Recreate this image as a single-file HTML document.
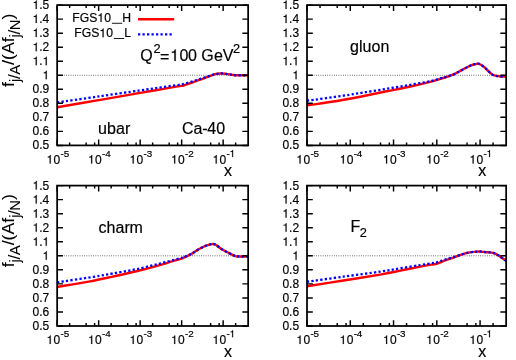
<!DOCTYPE html>
<html><head><meta charset="utf-8"><title>FGS10 nuclear ratios</title>
<style>
html,body{margin:0;padding:0;background:#fff;-webkit-font-smoothing:antialiased;}
body{width:516px;height:360px;overflow:hidden;position:relative;font-family:"Liberation Sans",sans-serif;}
</style></head><body>
<svg width="516" height="360" viewBox="0 0 516 360" style="display:block;position:absolute;left:0;top:0;will-change:transform" font-family="Liberation Sans, sans-serif" fill="#000" stroke="#000" stroke-width="0.18">
<rect width="516" height="360" fill="#fff" stroke="none"/>
<line x1="57.15" y1="75.25" x2="248.15" y2="75.25" stroke="#000" stroke-width="0.7" stroke-dasharray="0.8 1.45"/>
<clipPath id="cp1"><rect x="57.15" y="5.10" width="191.00" height="140.30"/></clipPath>
<g clip-path="url(#cp1)" fill="none">
<path d="M57.15 107.24 C64.07 106.05 84.82 102.47 98.65 100.08 C112.48 97.70 129.78 94.72 140.15 92.93 C150.53 91.14 154.40 90.47 160.90 89.35 C167.40 88.23 175.56 86.79 179.16 86.19 C182.76 85.60 181.37 86.02 182.48 85.77 C183.59 85.53 183.98 85.34 185.80 84.72 C187.62 84.11 190.84 82.99 193.39 82.08 C195.95 81.17 198.57 80.20 201.16 79.26 C203.74 78.32 206.56 77.29 208.92 76.44 C211.27 75.60 213.33 74.70 215.27 74.20 C217.20 73.70 218.75 73.48 220.54 73.43 C222.32 73.37 224.04 73.64 225.97 73.88 C227.91 74.11 230.34 74.60 232.16 74.83 C233.97 75.06 234.06 75.18 236.84 75.25 C239.63 75.32 246.87 75.25 248.88 75.25" stroke="#ff0000" stroke-width="2.40"/>
<path d="M57.15 102.47 C64.07 101.46 84.82 98.45 98.65 96.44 C112.48 94.42 129.78 91.91 140.15 90.40 C150.53 88.89 154.40 88.32 160.90 87.39 C167.40 86.45 175.56 85.30 179.16 84.79 C182.76 84.28 181.37 84.53 182.48 84.30 C183.59 84.07 183.98 83.91 185.80 83.39 C187.62 82.86 190.84 81.94 193.39 81.14 C195.95 80.35 198.57 79.45 201.16 78.62 C203.74 77.78 206.56 76.88 208.92 76.15 C211.27 75.41 213.33 74.65 215.27 74.20 C217.20 73.74 218.75 73.48 220.54 73.43 C222.32 73.37 224.04 73.64 225.97 73.88 C227.91 74.11 230.34 74.60 232.16 74.83 C233.97 75.06 234.06 75.18 236.84 75.25 C239.63 75.32 246.87 75.25 248.88 75.25" stroke="#0000ff" stroke-width="2.30" stroke-dasharray="2.25 2.25"/>
</g>
<path d="M57.15 145.40h5.80 M248.15 145.40h-5.80 M57.15 131.37h5.80 M248.15 131.37h-5.80 M57.15 117.34h5.80 M248.15 117.34h-5.80 M57.15 103.31h5.80 M248.15 103.31h-5.80 M57.15 89.28h5.80 M248.15 89.28h-5.80 M57.15 75.25h5.80 M248.15 75.25h-5.80 M57.15 61.22h5.80 M248.15 61.22h-5.80 M57.15 47.19h5.80 M248.15 47.19h-5.80 M57.15 33.16h5.80 M248.15 33.16h-5.80 M57.15 19.13h5.80 M248.15 19.13h-5.80 M57.15 5.10h5.80 M248.15 5.10h-5.80 M57.15 145.40v-5.80 M57.15 5.10v5.80 M69.64 145.40v-3.00 M69.64 5.10v3.00 M86.16 145.40v-3.00 M86.16 5.10v3.00 M94.63 145.40v-3.00 M94.63 5.10v3.00 M98.65 145.40v-5.80 M98.65 5.10v5.80 M111.14 145.40v-3.00 M111.14 5.10v3.00 M127.66 145.40v-3.00 M127.66 5.10v3.00 M136.13 145.40v-3.00 M136.13 5.10v3.00 M140.15 145.40v-5.80 M140.15 5.10v5.80 M152.64 145.40v-3.00 M152.64 5.10v3.00 M169.16 145.40v-3.00 M169.16 5.10v3.00 M177.63 145.40v-3.00 M177.63 5.10v3.00 M181.65 145.40v-5.80 M181.65 5.10v5.80 M194.14 145.40v-3.00 M194.14 5.10v3.00 M210.66 145.40v-3.00 M210.66 5.10v3.00 M219.13 145.40v-3.00 M219.13 5.10v3.00 M223.15 145.40v-5.80 M223.15 5.10v5.80 M235.64 145.40v-3.00 M235.64 5.10v3.00" stroke="#000" stroke-width="1.45" fill="none"/>
<rect x="57.15" y="5.10" width="191.00" height="140.30" fill="none" stroke="#000" stroke-width="1.75"/>
<text x="32.57 39.24 42.58" y="149.35" font-size="12.00">0.5</text>
<text x="32.57 39.24 42.58" y="135.32" font-size="12.00">0.6</text>
<text x="32.57 39.24 42.58" y="121.29" font-size="12.00">0.7</text>
<text x="32.57 39.24 42.58" y="107.26" font-size="12.00">0.8</text>
<text x="32.57 39.24 42.58" y="93.23" font-size="12.00">0.9</text>
<path transform="translate(42.58,79.20) scale(12.000)" d="M.259 -.505L.259 0L.347 0L.347 -.709L.289 -.709C.258 -.6 .238 -.585 .102 -.568L.102 -.505Z" stroke-width="0.0150"/>
<path transform="translate(32.57,65.17) scale(12.000)" d="M.259 -.505L.259 0L.347 0L.347 -.709L.289 -.709C.258 -.6 .238 -.585 .102 -.568L.102 -.505Z" stroke-width="0.0150"/><text x="39.24" y="65.17" font-size="12.00">.</text><path transform="translate(42.58,65.17) scale(12.000)" d="M.259 -.505L.259 0L.347 0L.347 -.709L.289 -.709C.258 -.6 .238 -.585 .102 -.568L.102 -.505Z" stroke-width="0.0150"/>
<path transform="translate(32.57,51.14) scale(12.000)" d="M.259 -.505L.259 0L.347 0L.347 -.709L.289 -.709C.258 -.6 .238 -.585 .102 -.568L.102 -.505Z" stroke-width="0.0150"/><text x="39.24 42.58" y="51.14" font-size="12.00">.2</text>
<path transform="translate(32.57,37.11) scale(12.000)" d="M.259 -.505L.259 0L.347 0L.347 -.709L.289 -.709C.258 -.6 .238 -.585 .102 -.568L.102 -.505Z" stroke-width="0.0150"/><text x="39.24 42.58" y="37.11" font-size="12.00">.3</text>
<path transform="translate(32.57,23.08) scale(12.000)" d="M.259 -.505L.259 0L.347 0L.347 -.709L.289 -.709C.258 -.6 .238 -.585 .102 -.568L.102 -.505Z" stroke-width="0.0150"/><text x="39.24 42.58" y="23.08" font-size="12.00">.4</text>
<path transform="translate(32.57,9.05) scale(12.000)" d="M.259 -.505L.259 0L.347 0L.347 -.709L.289 -.709C.258 -.6 .238 -.585 .102 -.568L.102 -.505Z" stroke-width="0.0150"/><text x="39.24 42.58" y="9.05" font-size="12.00">.5</text>
<path transform="translate(46.55,163.60) scale(12.000)" d="M.259 -.505L.259 0L.347 0L.347 -.709L.289 -.709C.258 -.6 .238 -.585 .102 -.568L.102 -.505Z" stroke-width="0.0150"/><text x="53.55" y="163.60" font-size="12.00">0</text>
<text x="60.55 63.65" y="156.90" font-size="9.90">-5</text>
<path transform="translate(88.05,163.60) scale(12.000)" d="M.259 -.505L.259 0L.347 0L.347 -.709L.289 -.709C.258 -.6 .238 -.585 .102 -.568L.102 -.505Z" stroke-width="0.0150"/><text x="95.05" y="163.60" font-size="12.00">0</text>
<text x="102.05 105.15" y="156.90" font-size="9.90">-4</text>
<path transform="translate(129.55,163.60) scale(12.000)" d="M.259 -.505L.259 0L.347 0L.347 -.709L.289 -.709C.258 -.6 .238 -.585 .102 -.568L.102 -.505Z" stroke-width="0.0150"/><text x="136.55" y="163.60" font-size="12.00">0</text>
<text x="143.55 146.65" y="156.90" font-size="9.90">-3</text>
<path transform="translate(171.05,163.60) scale(12.000)" d="M.259 -.505L.259 0L.347 0L.347 -.709L.289 -.709C.258 -.6 .238 -.585 .102 -.568L.102 -.505Z" stroke-width="0.0150"/><text x="178.05" y="163.60" font-size="12.00">0</text>
<text x="185.05 188.15" y="156.90" font-size="9.90">-2</text>
<path transform="translate(212.55,163.60) scale(12.000)" d="M.259 -.505L.259 0L.347 0L.347 -.709L.289 -.709C.258 -.6 .238 -.585 .102 -.568L.102 -.505Z" stroke-width="0.0150"/><text x="219.55" y="163.60" font-size="12.00">0</text>
<text x="226.55" y="156.90" font-size="9.90">-</text><path transform="translate(229.65,156.90) scale(9.900)" d="M.259 -.505L.259 0L.347 0L.347 -.709L.289 -.709C.258 -.6 .238 -.585 .102 -.568L.102 -.505Z" stroke-width="0.0182"/>
<text x="227.90" y="176.40" font-size="16.00" text-anchor="middle">x</text>
<line x1="307.00" y1="75.25" x2="506.15" y2="75.25" stroke="#000" stroke-width="0.7" stroke-dasharray="0.8 1.45"/>
<clipPath id="cp2"><rect x="307.00" y="5.10" width="199.15" height="140.30"/></clipPath>
<g clip-path="url(#cp2)" fill="none">
<path d="M307.00 105.41 C312.50 104.60 330.73 102.04 340.02 100.50 C349.30 98.97 355.12 97.69 362.69 96.20 C370.25 94.70 377.84 93.05 385.41 91.52 C392.97 90.00 400.64 88.65 408.08 87.04 C415.51 85.42 424.65 83.20 430.02 81.84 C435.38 80.49 437.37 79.76 440.27 78.90 C443.18 78.03 445.04 77.49 447.45 76.65 C449.87 75.81 452.32 74.97 454.77 73.85 C457.22 72.72 459.70 71.23 462.17 69.92 C464.63 68.61 467.48 66.94 469.57 65.99 C471.65 65.04 473.08 64.59 474.67 64.24 C476.26 63.89 477.48 63.41 479.08 63.89 C480.69 64.37 482.68 65.85 484.28 67.11 C485.88 68.38 487.22 70.15 488.69 71.46 C490.16 72.77 491.39 74.17 493.10 74.97 C494.82 75.76 496.69 75.95 498.99 76.23 C501.29 76.51 505.59 76.58 506.91 76.65" stroke="#ff0000" stroke-width="2.40"/>
<path d="M307.00 100.78 C313.08 99.93 334.20 97.02 343.48 95.66 C352.76 94.31 355.70 93.76 362.69 92.65 C369.68 91.54 377.84 90.24 385.41 89.00 C392.97 87.76 400.64 86.50 408.08 85.21 C415.51 83.93 424.65 82.41 430.02 81.28 C435.38 80.16 437.37 79.27 440.27 78.48 C443.18 77.68 445.04 77.28 447.45 76.51 C449.87 75.74 452.32 74.95 454.77 73.85 C457.22 72.75 459.70 71.23 462.17 69.92 C464.63 68.61 467.48 66.94 469.57 65.99 C471.65 65.04 473.08 64.59 474.67 64.24 C476.26 63.89 477.48 63.41 479.08 63.89 C480.69 64.37 482.68 65.85 484.28 67.11 C485.88 68.38 487.22 70.15 488.69 71.46 C490.16 72.77 491.39 74.17 493.10 74.97 C494.82 75.76 496.69 75.95 498.99 76.23 C501.29 76.51 505.59 76.58 506.91 76.65" stroke="#0000ff" stroke-width="2.30" stroke-dasharray="2.25 2.25"/>
</g>
<path d="M307.00 145.40h5.80 M506.15 145.40h-5.80 M307.00 131.37h5.80 M506.15 131.37h-5.80 M307.00 117.34h5.80 M506.15 117.34h-5.80 M307.00 103.31h5.80 M506.15 103.31h-5.80 M307.00 89.28h5.80 M506.15 89.28h-5.80 M307.00 75.25h5.80 M506.15 75.25h-5.80 M307.00 61.22h5.80 M506.15 61.22h-5.80 M307.00 47.19h5.80 M506.15 47.19h-5.80 M307.00 33.16h5.80 M506.15 33.16h-5.80 M307.00 19.13h5.80 M506.15 19.13h-5.80 M307.00 5.10h5.80 M506.15 5.10h-5.80 M307.00 145.40v-5.80 M307.00 5.10v5.80 M320.03 145.40v-3.00 M320.03 5.10v3.00 M337.24 145.40v-3.00 M337.24 5.10v3.00 M346.08 145.40v-3.00 M346.08 5.10v3.00 M350.27 145.40v-5.80 M350.27 5.10v5.80 M363.30 145.40v-3.00 M363.30 5.10v3.00 M380.51 145.40v-3.00 M380.51 5.10v3.00 M389.35 145.40v-3.00 M389.35 5.10v3.00 M393.54 145.40v-5.80 M393.54 5.10v5.80 M406.57 145.40v-3.00 M406.57 5.10v3.00 M423.78 145.40v-3.00 M423.78 5.10v3.00 M432.62 145.40v-3.00 M432.62 5.10v3.00 M436.81 145.40v-5.80 M436.81 5.10v5.80 M449.84 145.40v-3.00 M449.84 5.10v3.00 M467.05 145.40v-3.00 M467.05 5.10v3.00 M475.89 145.40v-3.00 M475.89 5.10v3.00 M480.08 145.40v-5.80 M480.08 5.10v5.80 M493.11 145.40v-3.00 M493.11 5.10v3.00" stroke="#000" stroke-width="1.45" fill="none"/>
<rect x="307.00" y="5.10" width="199.15" height="140.30" fill="none" stroke="#000" stroke-width="1.75"/>
<text x="282.42 289.09 292.43" y="149.35" font-size="12.00">0.5</text>
<text x="282.42 289.09 292.43" y="135.32" font-size="12.00">0.6</text>
<text x="282.42 289.09 292.43" y="121.29" font-size="12.00">0.7</text>
<text x="282.42 289.09 292.43" y="107.26" font-size="12.00">0.8</text>
<text x="282.42 289.09 292.43" y="93.23" font-size="12.00">0.9</text>
<path transform="translate(292.43,79.20) scale(12.000)" d="M.259 -.505L.259 0L.347 0L.347 -.709L.289 -.709C.258 -.6 .238 -.585 .102 -.568L.102 -.505Z" stroke-width="0.0150"/>
<path transform="translate(282.42,65.17) scale(12.000)" d="M.259 -.505L.259 0L.347 0L.347 -.709L.289 -.709C.258 -.6 .238 -.585 .102 -.568L.102 -.505Z" stroke-width="0.0150"/><text x="289.09" y="65.17" font-size="12.00">.</text><path transform="translate(292.43,65.17) scale(12.000)" d="M.259 -.505L.259 0L.347 0L.347 -.709L.289 -.709C.258 -.6 .238 -.585 .102 -.568L.102 -.505Z" stroke-width="0.0150"/>
<path transform="translate(282.42,51.14) scale(12.000)" d="M.259 -.505L.259 0L.347 0L.347 -.709L.289 -.709C.258 -.6 .238 -.585 .102 -.568L.102 -.505Z" stroke-width="0.0150"/><text x="289.09 292.43" y="51.14" font-size="12.00">.2</text>
<path transform="translate(282.42,37.11) scale(12.000)" d="M.259 -.505L.259 0L.347 0L.347 -.709L.289 -.709C.258 -.6 .238 -.585 .102 -.568L.102 -.505Z" stroke-width="0.0150"/><text x="289.09 292.43" y="37.11" font-size="12.00">.3</text>
<path transform="translate(282.42,23.08) scale(12.000)" d="M.259 -.505L.259 0L.347 0L.347 -.709L.289 -.709C.258 -.6 .238 -.585 .102 -.568L.102 -.505Z" stroke-width="0.0150"/><text x="289.09 292.43" y="23.08" font-size="12.00">.4</text>
<path transform="translate(282.42,9.05) scale(12.000)" d="M.259 -.505L.259 0L.347 0L.347 -.709L.289 -.709C.258 -.6 .238 -.585 .102 -.568L.102 -.505Z" stroke-width="0.0150"/><text x="289.09 292.43" y="9.05" font-size="12.00">.5</text>
<path transform="translate(296.40,163.60) scale(12.000)" d="M.259 -.505L.259 0L.347 0L.347 -.709L.289 -.709C.258 -.6 .238 -.585 .102 -.568L.102 -.505Z" stroke-width="0.0150"/><text x="303.40" y="163.60" font-size="12.00">0</text>
<text x="310.40 313.50" y="156.90" font-size="9.90">-5</text>
<path transform="translate(339.67,163.60) scale(12.000)" d="M.259 -.505L.259 0L.347 0L.347 -.709L.289 -.709C.258 -.6 .238 -.585 .102 -.568L.102 -.505Z" stroke-width="0.0150"/><text x="346.67" y="163.60" font-size="12.00">0</text>
<text x="353.67 356.77" y="156.90" font-size="9.90">-4</text>
<path transform="translate(382.94,163.60) scale(12.000)" d="M.259 -.505L.259 0L.347 0L.347 -.709L.289 -.709C.258 -.6 .238 -.585 .102 -.568L.102 -.505Z" stroke-width="0.0150"/><text x="389.94" y="163.60" font-size="12.00">0</text>
<text x="396.94 400.04" y="156.90" font-size="9.90">-3</text>
<path transform="translate(426.21,163.60) scale(12.000)" d="M.259 -.505L.259 0L.347 0L.347 -.709L.289 -.709C.258 -.6 .238 -.585 .102 -.568L.102 -.505Z" stroke-width="0.0150"/><text x="433.21" y="163.60" font-size="12.00">0</text>
<text x="440.21 443.31" y="156.90" font-size="9.90">-2</text>
<path transform="translate(469.48,163.60) scale(12.000)" d="M.259 -.505L.259 0L.347 0L.347 -.709L.289 -.709C.258 -.6 .238 -.585 .102 -.568L.102 -.505Z" stroke-width="0.0150"/><text x="476.48" y="163.60" font-size="12.00">0</text>
<text x="483.48" y="156.90" font-size="9.90">-</text><path transform="translate(486.58,156.90) scale(9.900)" d="M.259 -.505L.259 0L.347 0L.347 -.709L.289 -.709C.258 -.6 .238 -.585 .102 -.568L.102 -.505Z" stroke-width="0.0182"/>
<text x="482.20" y="176.40" font-size="16.00" text-anchor="middle">x</text>
<line x1="57.15" y1="255.80" x2="248.15" y2="255.80" stroke="#000" stroke-width="0.7" stroke-dasharray="0.8 1.45"/>
<clipPath id="cp3"><rect x="57.15" y="185.60" width="191.00" height="140.40"/></clipPath>
<g clip-path="url(#cp3)" fill="none">
<path d="M57.15 286.97 C62.63 286.03 80.76 283.08 90.02 281.35 C99.28 279.62 105.15 278.22 112.72 276.58 C120.29 274.94 127.87 273.35 135.42 271.52 C142.97 269.70 150.61 267.71 158.04 265.63 C165.46 263.55 175.87 260.29 179.99 259.03 C184.11 257.77 181.01 258.82 182.77 258.05 C184.53 257.27 187.99 255.82 190.57 254.40 C193.16 252.97 195.70 250.93 198.29 249.48 C200.88 248.03 203.80 246.59 206.09 245.69 C208.38 244.79 210.43 244.24 212.03 244.08 C213.63 243.91 214.10 243.88 215.68 244.71 C217.26 245.54 219.31 247.69 221.49 249.06 C223.67 250.43 226.57 251.78 228.75 252.91 C230.94 254.03 232.90 255.20 234.60 255.80 C236.31 256.40 236.58 256.38 238.96 256.50 C241.34 256.62 247.23 256.50 248.88 256.50" stroke="#ff0000" stroke-width="2.40"/>
<path d="M57.15 282.34 C63.21 281.42 84.24 278.29 93.50 276.82 C102.77 275.34 105.73 274.73 112.72 273.49 C119.70 272.25 127.87 270.94 135.42 269.36 C142.97 267.78 150.61 265.84 158.04 264.00 C165.46 262.16 175.87 259.41 179.99 258.33 C184.11 257.24 181.01 258.16 182.77 257.48 C184.53 256.81 187.99 255.59 190.57 254.26 C193.16 252.92 195.70 250.91 198.29 249.48 C200.88 248.05 203.80 246.59 206.09 245.69 C208.38 244.79 210.43 244.24 212.03 244.08 C213.63 243.91 214.10 243.88 215.68 244.71 C217.26 245.54 219.31 247.69 221.49 249.06 C223.67 250.43 226.57 251.78 228.75 252.91 C230.94 254.03 232.90 255.20 234.60 255.80 C236.31 256.40 236.58 256.38 238.96 256.50 C241.34 256.62 247.23 256.50 248.88 256.50" stroke="#0000ff" stroke-width="2.30" stroke-dasharray="2.25 2.25"/>
</g>
<path d="M57.15 326.00h5.80 M248.15 326.00h-5.80 M57.15 311.96h5.80 M248.15 311.96h-5.80 M57.15 297.92h5.80 M248.15 297.92h-5.80 M57.15 283.88h5.80 M248.15 283.88h-5.80 M57.15 269.84h5.80 M248.15 269.84h-5.80 M57.15 255.80h5.80 M248.15 255.80h-5.80 M57.15 241.76h5.80 M248.15 241.76h-5.80 M57.15 227.72h5.80 M248.15 227.72h-5.80 M57.15 213.68h5.80 M248.15 213.68h-5.80 M57.15 199.64h5.80 M248.15 199.64h-5.80 M57.15 185.60h5.80 M248.15 185.60h-5.80 M57.15 326.00v-5.80 M57.15 185.60v5.80 M69.64 326.00v-3.00 M69.64 185.60v3.00 M86.16 326.00v-3.00 M86.16 185.60v3.00 M94.63 326.00v-3.00 M94.63 185.60v3.00 M98.65 326.00v-5.80 M98.65 185.60v5.80 M111.14 326.00v-3.00 M111.14 185.60v3.00 M127.66 326.00v-3.00 M127.66 185.60v3.00 M136.13 326.00v-3.00 M136.13 185.60v3.00 M140.15 326.00v-5.80 M140.15 185.60v5.80 M152.64 326.00v-3.00 M152.64 185.60v3.00 M169.16 326.00v-3.00 M169.16 185.60v3.00 M177.63 326.00v-3.00 M177.63 185.60v3.00 M181.65 326.00v-5.80 M181.65 185.60v5.80 M194.14 326.00v-3.00 M194.14 185.60v3.00 M210.66 326.00v-3.00 M210.66 185.60v3.00 M219.13 326.00v-3.00 M219.13 185.60v3.00 M223.15 326.00v-5.80 M223.15 185.60v5.80 M235.64 326.00v-3.00 M235.64 185.60v3.00" stroke="#000" stroke-width="1.45" fill="none"/>
<rect x="57.15" y="185.60" width="191.00" height="140.40" fill="none" stroke="#000" stroke-width="1.75"/>
<text x="32.57 39.24 42.58" y="329.95" font-size="12.00">0.5</text>
<text x="32.57 39.24 42.58" y="315.91" font-size="12.00">0.6</text>
<text x="32.57 39.24 42.58" y="301.87" font-size="12.00">0.7</text>
<text x="32.57 39.24 42.58" y="287.83" font-size="12.00">0.8</text>
<text x="32.57 39.24 42.58" y="273.79" font-size="12.00">0.9</text>
<path transform="translate(42.58,259.75) scale(12.000)" d="M.259 -.505L.259 0L.347 0L.347 -.709L.289 -.709C.258 -.6 .238 -.585 .102 -.568L.102 -.505Z" stroke-width="0.0150"/>
<path transform="translate(32.57,245.71) scale(12.000)" d="M.259 -.505L.259 0L.347 0L.347 -.709L.289 -.709C.258 -.6 .238 -.585 .102 -.568L.102 -.505Z" stroke-width="0.0150"/><text x="39.24" y="245.71" font-size="12.00">.</text><path transform="translate(42.58,245.71) scale(12.000)" d="M.259 -.505L.259 0L.347 0L.347 -.709L.289 -.709C.258 -.6 .238 -.585 .102 -.568L.102 -.505Z" stroke-width="0.0150"/>
<path transform="translate(32.57,231.67) scale(12.000)" d="M.259 -.505L.259 0L.347 0L.347 -.709L.289 -.709C.258 -.6 .238 -.585 .102 -.568L.102 -.505Z" stroke-width="0.0150"/><text x="39.24 42.58" y="231.67" font-size="12.00">.2</text>
<path transform="translate(32.57,217.63) scale(12.000)" d="M.259 -.505L.259 0L.347 0L.347 -.709L.289 -.709C.258 -.6 .238 -.585 .102 -.568L.102 -.505Z" stroke-width="0.0150"/><text x="39.24 42.58" y="217.63" font-size="12.00">.3</text>
<path transform="translate(32.57,203.59) scale(12.000)" d="M.259 -.505L.259 0L.347 0L.347 -.709L.289 -.709C.258 -.6 .238 -.585 .102 -.568L.102 -.505Z" stroke-width="0.0150"/><text x="39.24 42.58" y="203.59" font-size="12.00">.4</text>
<path transform="translate(32.57,189.55) scale(12.000)" d="M.259 -.505L.259 0L.347 0L.347 -.709L.289 -.709C.258 -.6 .238 -.585 .102 -.568L.102 -.505Z" stroke-width="0.0150"/><text x="39.24 42.58" y="189.55" font-size="12.00">.5</text>
<path transform="translate(46.55,343.90) scale(12.000)" d="M.259 -.505L.259 0L.347 0L.347 -.709L.289 -.709C.258 -.6 .238 -.585 .102 -.568L.102 -.505Z" stroke-width="0.0150"/><text x="53.55" y="343.90" font-size="12.00">0</text>
<text x="60.55 63.65" y="337.20" font-size="9.90">-5</text>
<path transform="translate(88.05,343.90) scale(12.000)" d="M.259 -.505L.259 0L.347 0L.347 -.709L.289 -.709C.258 -.6 .238 -.585 .102 -.568L.102 -.505Z" stroke-width="0.0150"/><text x="95.05" y="343.90" font-size="12.00">0</text>
<text x="102.05 105.15" y="337.20" font-size="9.90">-4</text>
<path transform="translate(129.55,343.90) scale(12.000)" d="M.259 -.505L.259 0L.347 0L.347 -.709L.289 -.709C.258 -.6 .238 -.585 .102 -.568L.102 -.505Z" stroke-width="0.0150"/><text x="136.55" y="343.90" font-size="12.00">0</text>
<text x="143.55 146.65" y="337.20" font-size="9.90">-3</text>
<path transform="translate(171.05,343.90) scale(12.000)" d="M.259 -.505L.259 0L.347 0L.347 -.709L.289 -.709C.258 -.6 .238 -.585 .102 -.568L.102 -.505Z" stroke-width="0.0150"/><text x="178.05" y="343.90" font-size="12.00">0</text>
<text x="185.05 188.15" y="337.20" font-size="9.90">-2</text>
<path transform="translate(212.55,343.90) scale(12.000)" d="M.259 -.505L.259 0L.347 0L.347 -.709L.289 -.709C.258 -.6 .238 -.585 .102 -.568L.102 -.505Z" stroke-width="0.0150"/><text x="219.55" y="343.90" font-size="12.00">0</text>
<text x="226.55" y="337.20" font-size="9.90">-</text><path transform="translate(229.65,337.20) scale(9.900)" d="M.259 -.505L.259 0L.347 0L.347 -.709L.289 -.709C.258 -.6 .238 -.585 .102 -.568L.102 -.505Z" stroke-width="0.0182"/>
<text x="227.90" y="356.70" font-size="16.00" text-anchor="middle">x</text>
<line x1="307.00" y1="255.80" x2="506.15" y2="255.80" stroke="#000" stroke-width="0.7" stroke-dasharray="0.8 1.45"/>
<clipPath id="cp4"><rect x="307.00" y="185.60" width="199.15" height="140.40"/></clipPath>
<g clip-path="url(#cp4)" fill="none">
<path d="M307.00 286.27 C313.07 285.31 331.26 282.45 343.43 280.51 C355.61 278.57 370.57 276.25 380.04 274.61 C389.51 272.98 393.53 272.02 400.25 270.68 C406.97 269.35 414.85 267.68 420.37 266.61 C425.88 265.55 430.61 264.77 433.35 264.29 C436.09 263.81 435.66 264.05 436.81 263.73 C437.96 263.42 438.88 262.95 440.27 262.40 C441.66 261.85 443.05 261.21 445.16 260.43 C447.27 259.66 450.12 258.78 452.95 257.77 C455.78 256.75 459.40 255.22 462.17 254.33 C464.94 253.44 467.11 252.89 469.57 252.43 C472.02 251.97 474.92 251.73 476.88 251.59 C478.83 251.45 479.58 251.47 481.29 251.59 C483.01 251.70 485.21 252.08 487.18 252.29 C489.15 252.50 491.14 252.27 493.10 252.85 C495.07 253.44 496.69 254.37 498.99 255.80 C501.29 257.23 505.59 260.48 506.91 261.42" stroke="#ff0000" stroke-width="2.40"/>
<path d="M307.00 281.77 C313.07 280.92 331.26 278.33 343.43 276.65 C355.61 274.96 370.57 273.06 380.04 271.67 C389.51 270.27 393.53 269.40 400.25 268.30 C406.97 267.20 414.85 265.97 420.37 265.07 C425.88 264.17 430.61 263.35 433.35 262.89 C436.09 262.43 435.66 262.62 436.81 262.33 C437.96 262.04 438.88 261.59 440.27 261.14 C441.66 260.68 443.05 260.22 445.16 259.59 C447.27 258.96 450.12 258.22 452.95 257.34 C455.78 256.47 459.40 255.14 462.17 254.33 C464.94 253.51 467.11 252.89 469.57 252.43 C472.02 251.97 474.92 251.73 476.88 251.59 C478.83 251.45 479.58 251.47 481.29 251.59 C483.01 251.70 485.21 252.08 487.18 252.29 C489.15 252.50 491.14 252.27 493.10 252.85 C495.07 253.44 496.69 254.37 498.99 255.80 C501.29 257.23 505.59 260.48 506.91 261.42" stroke="#0000ff" stroke-width="2.30" stroke-dasharray="2.25 2.25"/>
</g>
<path d="M307.00 326.00h5.80 M506.15 326.00h-5.80 M307.00 311.96h5.80 M506.15 311.96h-5.80 M307.00 297.92h5.80 M506.15 297.92h-5.80 M307.00 283.88h5.80 M506.15 283.88h-5.80 M307.00 269.84h5.80 M506.15 269.84h-5.80 M307.00 255.80h5.80 M506.15 255.80h-5.80 M307.00 241.76h5.80 M506.15 241.76h-5.80 M307.00 227.72h5.80 M506.15 227.72h-5.80 M307.00 213.68h5.80 M506.15 213.68h-5.80 M307.00 199.64h5.80 M506.15 199.64h-5.80 M307.00 185.60h5.80 M506.15 185.60h-5.80 M307.00 326.00v-5.80 M307.00 185.60v5.80 M320.03 326.00v-3.00 M320.03 185.60v3.00 M337.24 326.00v-3.00 M337.24 185.60v3.00 M346.08 326.00v-3.00 M346.08 185.60v3.00 M350.27 326.00v-5.80 M350.27 185.60v5.80 M363.30 326.00v-3.00 M363.30 185.60v3.00 M380.51 326.00v-3.00 M380.51 185.60v3.00 M389.35 326.00v-3.00 M389.35 185.60v3.00 M393.54 326.00v-5.80 M393.54 185.60v5.80 M406.57 326.00v-3.00 M406.57 185.60v3.00 M423.78 326.00v-3.00 M423.78 185.60v3.00 M432.62 326.00v-3.00 M432.62 185.60v3.00 M436.81 326.00v-5.80 M436.81 185.60v5.80 M449.84 326.00v-3.00 M449.84 185.60v3.00 M467.05 326.00v-3.00 M467.05 185.60v3.00 M475.89 326.00v-3.00 M475.89 185.60v3.00 M480.08 326.00v-5.80 M480.08 185.60v5.80 M493.11 326.00v-3.00 M493.11 185.60v3.00" stroke="#000" stroke-width="1.45" fill="none"/>
<rect x="307.00" y="185.60" width="199.15" height="140.40" fill="none" stroke="#000" stroke-width="1.75"/>
<text x="282.42 289.09 292.43" y="329.95" font-size="12.00">0.5</text>
<text x="282.42 289.09 292.43" y="315.91" font-size="12.00">0.6</text>
<text x="282.42 289.09 292.43" y="301.87" font-size="12.00">0.7</text>
<text x="282.42 289.09 292.43" y="287.83" font-size="12.00">0.8</text>
<text x="282.42 289.09 292.43" y="273.79" font-size="12.00">0.9</text>
<path transform="translate(292.43,259.75) scale(12.000)" d="M.259 -.505L.259 0L.347 0L.347 -.709L.289 -.709C.258 -.6 .238 -.585 .102 -.568L.102 -.505Z" stroke-width="0.0150"/>
<path transform="translate(282.42,245.71) scale(12.000)" d="M.259 -.505L.259 0L.347 0L.347 -.709L.289 -.709C.258 -.6 .238 -.585 .102 -.568L.102 -.505Z" stroke-width="0.0150"/><text x="289.09" y="245.71" font-size="12.00">.</text><path transform="translate(292.43,245.71) scale(12.000)" d="M.259 -.505L.259 0L.347 0L.347 -.709L.289 -.709C.258 -.6 .238 -.585 .102 -.568L.102 -.505Z" stroke-width="0.0150"/>
<path transform="translate(282.42,231.67) scale(12.000)" d="M.259 -.505L.259 0L.347 0L.347 -.709L.289 -.709C.258 -.6 .238 -.585 .102 -.568L.102 -.505Z" stroke-width="0.0150"/><text x="289.09 292.43" y="231.67" font-size="12.00">.2</text>
<path transform="translate(282.42,217.63) scale(12.000)" d="M.259 -.505L.259 0L.347 0L.347 -.709L.289 -.709C.258 -.6 .238 -.585 .102 -.568L.102 -.505Z" stroke-width="0.0150"/><text x="289.09 292.43" y="217.63" font-size="12.00">.3</text>
<path transform="translate(282.42,203.59) scale(12.000)" d="M.259 -.505L.259 0L.347 0L.347 -.709L.289 -.709C.258 -.6 .238 -.585 .102 -.568L.102 -.505Z" stroke-width="0.0150"/><text x="289.09 292.43" y="203.59" font-size="12.00">.4</text>
<path transform="translate(282.42,189.55) scale(12.000)" d="M.259 -.505L.259 0L.347 0L.347 -.709L.289 -.709C.258 -.6 .238 -.585 .102 -.568L.102 -.505Z" stroke-width="0.0150"/><text x="289.09 292.43" y="189.55" font-size="12.00">.5</text>
<path transform="translate(296.40,343.90) scale(12.000)" d="M.259 -.505L.259 0L.347 0L.347 -.709L.289 -.709C.258 -.6 .238 -.585 .102 -.568L.102 -.505Z" stroke-width="0.0150"/><text x="303.40" y="343.90" font-size="12.00">0</text>
<text x="310.40 313.50" y="337.20" font-size="9.90">-5</text>
<path transform="translate(339.67,343.90) scale(12.000)" d="M.259 -.505L.259 0L.347 0L.347 -.709L.289 -.709C.258 -.6 .238 -.585 .102 -.568L.102 -.505Z" stroke-width="0.0150"/><text x="346.67" y="343.90" font-size="12.00">0</text>
<text x="353.67 356.77" y="337.20" font-size="9.90">-4</text>
<path transform="translate(382.94,343.90) scale(12.000)" d="M.259 -.505L.259 0L.347 0L.347 -.709L.289 -.709C.258 -.6 .238 -.585 .102 -.568L.102 -.505Z" stroke-width="0.0150"/><text x="389.94" y="343.90" font-size="12.00">0</text>
<text x="396.94 400.04" y="337.20" font-size="9.90">-3</text>
<path transform="translate(426.21,343.90) scale(12.000)" d="M.259 -.505L.259 0L.347 0L.347 -.709L.289 -.709C.258 -.6 .238 -.585 .102 -.568L.102 -.505Z" stroke-width="0.0150"/><text x="433.21" y="343.90" font-size="12.00">0</text>
<text x="440.21 443.31" y="337.20" font-size="9.90">-2</text>
<path transform="translate(469.48,343.90) scale(12.000)" d="M.259 -.505L.259 0L.347 0L.347 -.709L.289 -.709C.258 -.6 .238 -.585 .102 -.568L.102 -.505Z" stroke-width="0.0150"/><text x="476.48" y="343.90" font-size="12.00">0</text>
<text x="483.48" y="337.20" font-size="9.90">-</text><path transform="translate(486.58,337.20) scale(9.900)" d="M.259 -.505L.259 0L.347 0L.347 -.709L.289 -.709C.258 -.6 .238 -.585 .102 -.568L.102 -.505Z" stroke-width="0.0182"/>
<text x="482.20" y="356.70" font-size="16.00" text-anchor="middle">x</text>
<text x="98.10 107.10 116.10 125.10" y="133.80" font-size="16.00">ubar</text>
<text x="181.90 193.50 202.20 207.20 216.20" y="134.00" font-size="16.00">Ca-40</text>
<text x="349.90 358.90 362.60 371.50 380.40" y="52.20" font-size="16.00">gluon</text>
<text x="98.40 106.40 115.40 124.40 129.40" y="232.80" font-size="16.00">charm</text>
<text x="350.50" y="231.50" font-size="16.00">F</text>
<text x="359.70" y="236.50" font-size="12.80">2</text>
<text x="140.30" y="60.90" font-size="16.00">Q</text>
<text x="153.60" y="52.60" font-size="12.80">2</text>
<text x="160.10" y="61.60" font-size="16.00">=</text>
<path transform="translate(170.20,60.90) scale(16.000)" d="M.259 -.505L.259 0L.347 0L.347 -.709L.289 -.709C.258 -.6 .238 -.585 .102 -.568L.102 -.505Z" stroke-width="0.0112"/><text x="179.60 187.90" y="60.90" font-size="16.00">00</text>
<text x="201.20 214.00 222.80" y="60.90" font-size="16.00">GeV</text>
<text x="232.90" y="52.60" font-size="12.80">2</text>
<text x="72.30 79.75 89.25" y="21.90" font-size="12.20">FGS</text><path transform="translate(97.38,21.90) scale(12.200)" d="M.259 -.505L.259 0L.347 0L.347 -.709L.289 -.709C.258 -.6 .238 -.585 .102 -.568L.102 -.505Z" stroke-width="0.0148"/><text x="104.17" y="21.90" font-size="12.20">0</text>
<rect x="111.90" y="22.80" width="10.3" height="0.9" stroke="none"/>
<text x="122.19" y="21.90" font-size="12.20">H</text>
<text x="74.30 81.75 91.25" y="37.20" font-size="12.20">FGS</text><path transform="translate(99.38,37.20) scale(12.200)" d="M.259 -.505L.259 0L.347 0L.347 -.709L.289 -.709C.258 -.6 .238 -.585 .102 -.568L.102 -.505Z" stroke-width="0.0148"/><text x="106.17" y="37.20" font-size="12.20">0</text>
<rect x="113.90" y="38.10" width="10.3" height="0.9" stroke="none"/>
<text x="124.22" y="37.20" font-size="12.20">L</text>
<line x1="138" y1="19.3" x2="174.2" y2="19.3" stroke="#ff0000" stroke-width="2.40"/>
<line x1="138" y1="34.3" x2="172.5" y2="34.3" stroke="#0000ff" stroke-width="2.30" stroke-dasharray="2.25 2.25"/>
<text transform="translate(14,86.90) rotate(-90) scale(1.04,1)" font-size="17.00" stroke-width="0.05">f<tspan font-size="14.30" dy="5.6">j</tspan><tspan font-size="16.50" dx="-0.4" dy="0.6">/</tspan><tspan font-size="14.30" dx="-0.5" dy="-0.6">A</tspan><tspan font-size="17.00" dy="-5.6">/(Af</tspan><tspan font-size="14.30" dy="5.6">j</tspan><tspan font-size="16.50" dx="-0.4" dy="0.6">/</tspan><tspan font-size="14.30" dx="-0.5" dy="-0.6">N</tspan><tspan font-size="17.00" dy="-5.6">)</tspan></text>
<text transform="translate(14,267.30) rotate(-90) scale(1.04,1)" font-size="17.00" stroke-width="0.05">f<tspan font-size="14.30" dy="5.6">j</tspan><tspan font-size="16.50" dx="-0.4" dy="0.6">/</tspan><tspan font-size="14.30" dx="-0.5" dy="-0.6">A</tspan><tspan font-size="17.00" dy="-5.6">/(Af</tspan><tspan font-size="14.30" dy="5.6">j</tspan><tspan font-size="16.50" dx="-0.4" dy="0.6">/</tspan><tspan font-size="14.30" dx="-0.5" dy="-0.6">N</tspan><tspan font-size="17.00" dy="-5.6">)</tspan></text>
</svg>
</body></html>
